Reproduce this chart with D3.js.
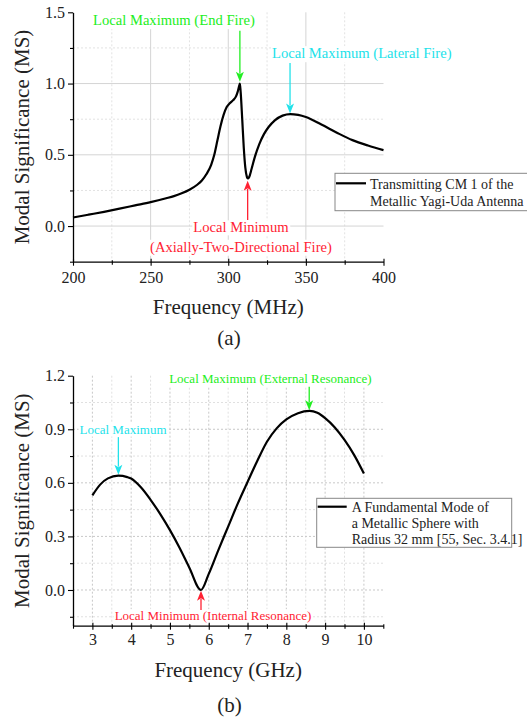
<!DOCTYPE html>
<html>
<head>
<meta charset="utf-8">
<script src="https://cdn.jsdelivr.net/npm/d3@7"></script>
</head>
<body style="margin:0;background:#fff">
<svg id="chart" width="527" height="719" style="display:block;background:#fff"></svg>
<script>
// ---------------- Panel (a) data ----------------
const freqA = [200, 210, 220, 230, 240, 250, 260, 265, 270, 275, 280, 283, 286, 289, 291, 293, 295, 297, 299, 301, 303, 305, 306, 307, 307.5, 308, 309, 310, 311, 312, 312.6, 313.5, 315, 317, 320, 323, 326, 330, 335, 340, 345, 350, 360, 370, 380, 390, 400];
const msA   = [0.060, 0.080, 0.100, 0.122, 0.145, 0.168, 0.195, 0.210, 0.230, 0.255, 0.290, 0.320, 0.365, 0.430, 0.500, 0.600, 0.700, 0.780, 0.835, 0.862, 0.882, 0.910, 0.940, 0.982, 1.000, 0.940, 0.750, 0.550, 0.410, 0.345, 0.334, 0.345, 0.400, 0.480, 0.575, 0.645, 0.695, 0.742, 0.775, 0.786, 0.780, 0.765, 0.712, 0.655, 0.603, 0.565, 0.533];
const xTicksA = [200, 250, 300, 350, 400];
const xMinorA = [225, 275, 325, 375];
const yTicksA = [0.0, 0.5, 1.0, 1.5];
const yMinorA = [-0.25, 0.25, 0.75, 1.25];
const legendA = ["Transmitting CM 1 of the", "Metallic Yagi-Uda Antenna"];
const notesA = [
  { lines: ["Local Maximum (End Fire)"], color: "#22ee22", tip: [307.5, 1.012], tail: [307.5, 1.37], at: [265, 1.41], dy: 0, size: 14.6 },
  { lines: ["Local Maximum (Lateral Fire)"], color: "#22e2ea", tip: [339.8, 0.79], tail: [339.8, 1.145], at: [386, 1.178], dy: 0, size: 14.6 },
  { lines: ["Local Minimum", "(Axially-Two-Directional Fire)"], color: "#ff2233", tip: [312.5, 0.318], tail: [312.5, 0.042], at: [308.2, -0.044], dy: 19.4, size: 14.6, up: true }
];

// ---------------- Panel (b) data ----------------
const freqB = [3.0, 3.2, 3.4, 3.67, 3.9, 4.0, 4.25, 4.5, 4.75, 5.0, 5.25, 5.5, 5.8, 6.0, 6.25, 6.5, 6.75, 7.0, 7.25, 7.5, 7.75, 8.0, 8.3, 8.6, 8.8, 9.0, 9.25, 9.5, 9.75, 10.0];
const msB   = [0.530, 0.590, 0.625, 0.640, 0.632, 0.624, 0.575, 0.505, 0.425, 0.335, 0.235, 0.125, 0.000, 0.090, 0.225, 0.355, 0.485, 0.605, 0.722, 0.830, 0.905, 0.955, 0.990, 1.003, 0.992, 0.962, 0.910, 0.840, 0.755, 0.652];
const xTicksB = [3, 4, 5, 6, 7, 8, 9, 10];
const xMinorB = [2.5, 3.5, 4.5, 5.5, 6.5, 7.5, 8.5, 9.5, 10.5];
const yTicksB = [0.0, 0.3, 0.6, 0.9, 1.2];
const yMinorB = [-0.15, 0.15, 0.45, 0.75, 1.05];
const legendB = ["A Fundamental Mode of", "a Metallic Sphere with", "Radius 32 mm [55, Sec. 3.4.1]"];
const notesB = [
  { lines: ["Local Maximum"], color: "#22e2ea", tip: [3.67, 0.646], tail: [3.67, 0.856], at: [3.79, 0.876], dy: 0, size: 13 },
  { lines: ["Local Maximum (External Resonance)"], color: "#22ee22", tip: [8.59, 1.007], tail: [8.59, 1.138], at: [7.59, 1.157], dy: 0, size: 13 },
  { lines: ["Local Minimum (Internal Resonance)"], color: "#ff2233", tip: [5.8, -0.004], tail: [5.8, -0.112], at: [6.11, -0.169], dy: 0, size: 13, up: true }
];

const SERIF = "'Liberation Serif', 'Times New Roman', serif";
const svg = d3.select("#chart");

function panel(cfg) {
  const g = svg.append("g");
  const x = d3.scaleLinear().domain(cfg.xDomain).range([cfg.left, cfg.right]);
  const y = d3.scaleLinear().domain(cfg.yDomain).range([cfg.bottom, cfg.top]);

  // grid
  const grid = g.append("g");
  const inX = v => v > cfg.xDomain[0] && v < cfg.xDomain[1];
  const inY = v => v > cfg.yDomain[0] && v < cfg.yDomain[1];
  grid.selectAll(".vmin").data(cfg.xMinor.filter(inX)).join("line")
    .attr("x1", d => x(d)).attr("x2", d => x(d)).attr("y1", cfg.top).attr("y2", cfg.bottom)
    .attr("stroke", cfg.minorColor).attr("stroke-width", 1).attr("stroke-dasharray", "2,2");
  grid.selectAll(".hmin").data(cfg.yMinor.filter(inY)).join("line")
    .attr("x1", cfg.left).attr("x2", cfg.right).attr("y1", d => y(d)).attr("y2", d => y(d))
    .attr("stroke", cfg.minorColor).attr("stroke-width", 1).attr("stroke-dasharray", "2,2");
  grid.selectAll(".vmaj").data(cfg.xTicks.filter(inX)).join("line")
    .attr("x1", d => x(d)).attr("x2", d => x(d)).attr("y1", cfg.top).attr("y2", cfg.bottom)
    .attr("stroke", cfg.majorColor).attr("stroke-width", 1).attr("stroke-dasharray", cfg.majorDash);
  grid.selectAll(".hmaj").data(cfg.yTicks.filter(inY)).join("line")
    .attr("x1", cfg.left).attr("x2", cfg.right).attr("y1", d => y(d)).attr("y2", d => y(d))
    .attr("stroke", cfg.majorColor).attr("stroke-width", 1).attr("stroke-dasharray", cfg.majorDash);

  // annotations
  const ann = g.append("g");
  cfg.notes.forEach(n => {
    const tg = ann.append("g");
    const texts = n.lines.map((t, i) => tg.append("text")
      .attr("x", x(n.at[0])).attr("y", y(n.at[1]) + i * n.dy)
      .attr("text-anchor", "middle").attr("font-size", n.size).attr("fill", n.color)
      .style("font-family", SERIF).text(t));
    texts.forEach(t => {
      const b = t.node().getBBox();
      tg.insert("rect", "text").attr("x", b.x - 1).attr("y", b.y + 1).attr("width", b.width + 2).attr("height", b.height - 1).attr("fill", "#fff");
    });
    const tx = x(n.tip[0]), ty = y(n.tip[1]), sy = y(n.tail[1]);
    const hh = 10, hw = 4;
    const dir = n.up ? 1 : -1;
    tg.append("line").attr("x1", tx).attr("x2", tx).attr("y1", sy).attr("y2", ty + dir * hh * 0.8)
      .attr("stroke", n.color).attr("stroke-width", 1.3);
    tg.append("path")
      .attr("d", `M${tx},${ty} L${tx - hw},${ty + dir * hh} L${tx},${ty + dir * hh * 0.75} L${tx + hw},${ty + dir * hh} Z`)
      .attr("fill", n.color);
  });

  // axes
  const xAxis = d3.axisBottom(x).tickValues(cfg.xTicks).tickFormat(d3.format("d")).tickSizeOuter(0).tickSizeInner(4).tickPadding(cfg.xPad);
  const xMin = d3.axisBottom(x).tickValues(cfg.xMinor).tickFormat("").tickSizeOuter(0).tickSizeInner(3);
  const yAxis = d3.axisLeft(y).tickValues(cfg.yTicks).tickFormat(d3.format(".1f")).tickSizeOuter(0).tickSizeInner(5).tickPadding(3);
  const yMin = d3.axisLeft(y).tickValues(cfg.yMinor).tickFormat("").tickSizeOuter(0).tickSizeInner(3);

  const gx = g.append("g").attr("transform", `translate(0,${cfg.bottom})`).call(xAxis);
  const gxm = g.append("g").attr("transform", `translate(0,${cfg.bottom})`).call(xMin);
  gxm.select(".domain").remove();
  const gy = g.append("g").attr("transform", `translate(${cfg.left},0)`).call(yAxis);
  const gym = g.append("g").attr("transform", `translate(${cfg.left},0)`).call(yMin);
  gym.select(".domain").remove();
  gx.selectAll(".tick line").attr("y1", -3);
  gxm.selectAll(".tick line").attr("y1", -1.5);
  [gx, gy].forEach(a => {
    a.select(".domain").attr("stroke", "#000").attr("stroke-width", 1.3);
    a.selectAll(".tick text").style("font-family", SERIF).attr("font-size", 16).attr("fill", "#222");
  });
  g.selectAll(".tick line").attr("stroke", "#000").attr("stroke-width", 1.1);

  // curve
  const line = d3.line().x((d, i) => x(cfg.xs[i])).y(d => y(d)).curve(d3.curveMonotoneX);
  g.append("path").datum(cfg.ys).attr("d", line).attr("fill", "none").attr("stroke", "#000").attr("stroke-width", 2.2);

  // titles
  g.append("text").attr("x", (cfg.left + cfg.right) / 2).attr("y", cfg.xTitleY).attr("text-anchor", "middle")
    .attr("font-size", 21).attr("fill", "#222").style("font-family", SERIF).text(cfg.xTitle);
  g.append("text").attr("transform", `translate(${cfg.yTitleX},${(cfg.top + cfg.bottom) / 2}) rotate(-90)`)
    .attr("text-anchor", "middle").attr("font-size", 21).attr("fill", "#222").style("font-family", SERIF).text("Modal Significance (MS)");
  g.append("text").attr("x", cfg.capX).attr("y", cfg.capY).attr("text-anchor", "middle")
    .attr("font-size", 21).attr("fill", "#222").style("font-family", SERIF).text(cfg.caption);

  // legend
  const L = cfg.legend;
  const lg = g.append("g");
  lg.append("rect").attr("x", L.x).attr("y", L.y).attr("width", L.w).attr("height", L.h)
    .attr("fill", "#fff").attr("stroke", "#888").attr("stroke-width", 1);
  lg.append("line").attr("x1", L.x + 1).attr("x2", L.x + L.lineW).attr("y1", L.lineY).attr("y2", L.lineY)
    .attr("stroke", "#000").attr("stroke-width", 2.2);
  cfg.legendLines.forEach((t, i) => {
    lg.append("text").attr("x", L.textX).attr("y", L.textY + i * L.dy).attr("font-size", L.size)
      .attr("fill", "#222").style("font-family", SERIF).text(t);
  });
}

panel({
  xs: freqA, ys: msA, xDomain: [200, 400], yDomain: [-0.25, 1.5],
  left: 73, right: 383.5, top: 12.3, bottom: 261.7,
  xTicks: xTicksA, xMinor: xMinorA, yTicks: yTicksA, yMinor: yMinorA, xPad: 6,
  majorColor: "#d4d4d4", minorColor: "#e2e2e2", majorDash: null,
  notes: notesA,
  xTitle: "Frequency (MHz)", xTitleY: 314, yTitleX: 28.5, caption: "(a)", capX: 229, capY: 344.5,
  legend: { x: 335, y: 173.3, w: 210, h: 37.4, lineW: 31, lineY: 183.3, textX: 370, textY: 188.5, dy: 17.5, size: 14 },
  legendLines: legendA
});

panel({
  xs: freqB, ys: msB, xDomain: [2.5, 10.5], yDomain: [-0.2, 1.2],
  left: 73, right: 383.3, top: 375.7, bottom: 625.7,
  xTicks: xTicksB, xMinor: xMinorB, yTicks: yTicksB, yMinor: yMinorB, xPad: 4,
  majorColor: "#c8c8c8", minorColor: "#e0e0e0", majorDash: "2,2",
  notes: notesB,
  xTitle: "Frequency (GHz)", xTitleY: 677, yTitleX: 28.5, caption: "(b)", capX: 229.5, capY: 711.5,
  legend: { x: 316.7, y: 498.3, w: 195, h: 49, lineW: 30, lineY: 506.7, textX: 351.7, textY: 511.7, dy: 16.2, size: 14 },
  legendLines: legendB
});
</script>
</body>
</html>
